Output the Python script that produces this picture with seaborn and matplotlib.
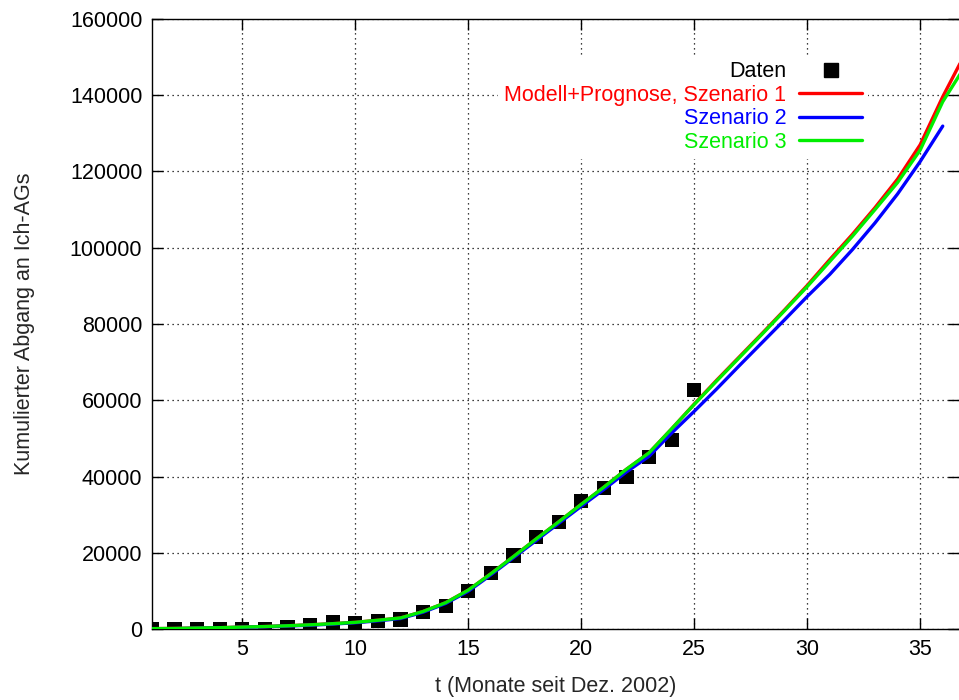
import matplotlib
matplotlib.use("Agg")
import matplotlib.pyplot as plt
import seaborn as sns
from matplotlib.lines import Line2D
from matplotlib.ticker import FixedLocator

# Daten: kumulierter Abgang an Ich-AGs (Monate seit Dez. 2002)
t_daten = list(range(1, 26))
daten = [0, 0, 0, 0, 100, 100, 600, 900, 1900, 1650, 2200, 2500, 4500, 6100,
         10000, 14600, 19300, 24200, 28150, 33650, 37070, 39950, 45200, 49570, 62690]

# Modell + Prognose
t_s1 = list(range(1, 38))
szenario1 = [100, 150, 250, 350, 500, 650, 850, 1100, 1400, 1750, 2300, 2900,
             4600, 6900, 10200, 14500, 19000, 23600, 28100, 32700, 37200, 41900,
             46200, 52500, 59000, 65300, 71400, 77500, 83700, 90100, 96900,
             103500, 110500, 118000, 127000, 139600, 151000]
t_s2 = list(range(1, 37))
szenario2 = [50, 100, 200, 300, 450, 600, 800, 1000, 1300, 1650, 2150, 2750,
             4400, 6700, 9900, 14200, 18700, 23200, 27700, 32200, 36600, 41200,
             45300, 51400, 57100, 63000, 69100, 75100, 81100, 87200, 93000,
             99500, 106500, 114100, 122600, 131900]
t_s3 = list(range(1, 38))
szenario3 = [100, 150, 250, 350, 500, 650, 850, 1100, 1400, 1750, 2300, 2900,
             4600, 6900, 10200, 14500, 19000, 23600, 28100, 32700, 37200, 41900,
             46200, 52500, 58900, 65100, 71200, 77300, 83500, 89800, 96400,
             103000, 110000, 117100, 125600, 138300, 147700]

x_ticks = [5, 10, 15, 20, 25, 30, 35]
y_ticks = list(range(0, 160001, 20000))

sns.set_style("ticks")
plt.rcParams["font.family"] = ["Liberation Sans", "DejaVu Sans"]
fs = 15.5

fig = plt.figure(figsize=(9.59, 7.0), dpi=100)
ax = fig.add_axes([0.1585, 0.1014, 0.8415, 0.8715])

ax.grid(True, color="black", linestyle=(0, (1, 3)), linewidth=0.9)
ax.set_axisbelow(True)

sns.scatterplot(x=t_daten, y=daten, marker="s", s=105, color="black",
                edgecolor="none", ax=ax, zorder=3)
sns.lineplot(x=t_s1, y=szenario1, color="#ff0000", linewidth=2.4, ax=ax, zorder=4)
sns.lineplot(x=t_s2, y=szenario2, color="#0000ff", linewidth=2.4, ax=ax, zorder=5)
sns.lineplot(x=t_s3, y=szenario3, color="#00ee00", linewidth=2.4, ax=ax, zorder=6)

ax.set_xlim(1, 36.72)
ax.set_ylim(0, 160000)
ax.xaxis.set_major_locator(FixedLocator(x_ticks))
ax.yaxis.set_major_locator(FixedLocator(y_ticks))
ax.tick_params(direction="in", length=8, width=1, top=True, right=True,
               labelsize=fs, pad=7, colors="black")
for sp in ax.spines.values():
    sp.set_linewidth(1)
    sp.set_color("black")
ax.spines["right"].set_visible(False)

ax.set_xlabel("t (Monate seit Dez. 2002)", fontsize=fs, labelpad=12)
ax.set_ylabel("Kumulierter Abgang an Ich-AGs", fontsize=fs, labelpad=25)

handles = [
    Line2D([], [], marker="s", linestyle="none", color="black", markersize=10),
    Line2D([], [], color="#ff0000", linewidth=2.4),
    Line2D([], [], color="#0000ff", linewidth=2.4),
    Line2D([], [], color="#00ee00", linewidth=2.4),
]
labels = ["Daten", "Modell+Prognose, Szenario 1", "Szenario 2", "Szenario 3"]
leg = fig.legend(handles, labels, loc="upper right",
                 bbox_to_anchor=(879 / 959, 1 - 44 / 700),
                 markerfirst=False, frameon=True, framealpha=1,
                 facecolor="white", edgecolor="none", fancybox=False,
                 fontsize=fs, handlelength=2.9, handletextpad=0.6,
                 labelspacing=0.12, borderpad=0.3,
                 labelcolor=["black", "#ff0000", "#0000ff", "#00ee00"])
for txt in leg.get_texts():
    txt.set_ha("right")

fig.savefig("out.png", dpi=100)
